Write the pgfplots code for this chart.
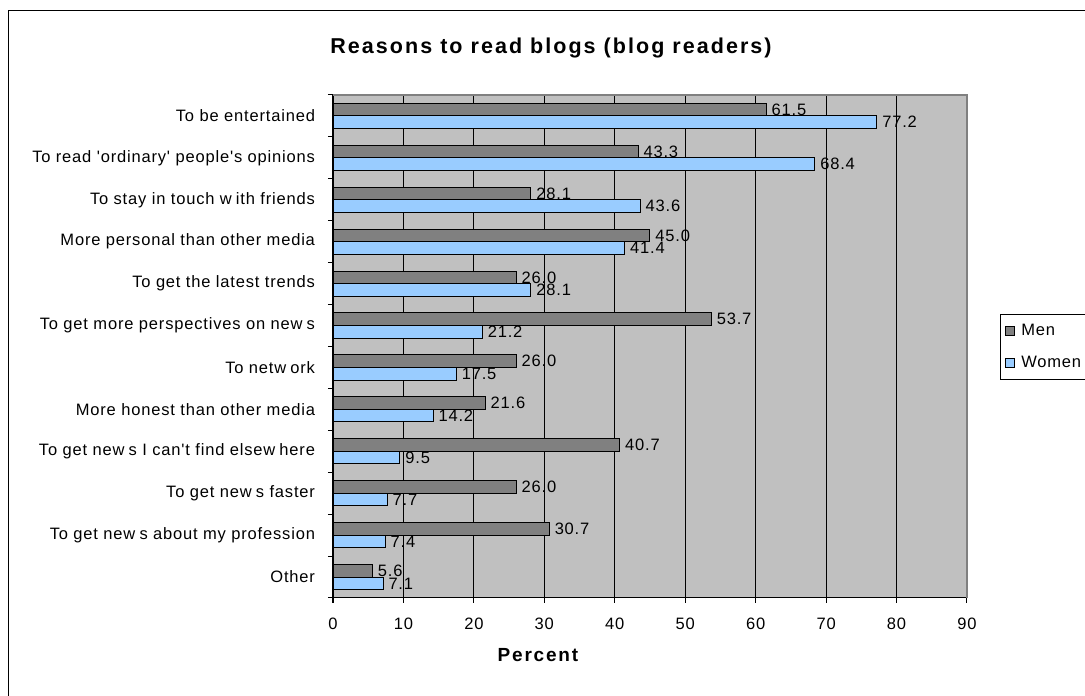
\documentclass[border=0pt]{standalone}
\usepackage{fontspec}
\setmainfont{Liberation Sans}
\newfontfamily\labelfont[LetterSpace=5]{Liberation Sans}
\newfontfamily\headfont[LetterSpace=9.5]{Liberation Sans}
\usepackage{pgfplots}
\usepackage{pgfplotstable}
\pgfplotsset{compat=1.18}

\definecolor{menfill}{HTML}{808080}
\definecolor{womenfill}{HTML}{99CCFF}
\definecolor{plotbg}{HTML}{C0C0C0}
\definecolor{plotedge}{HTML}{808080}

\newcommand{\lblfont}{\labelfont\fontsize{16.5}{19}\selectfont}
\newcommand{\wg}{\hspace{0.25em}}

% reason index (11 = top row), share of men, share of women (percent)
\pgfplotstableread{
idx men women
11 61.5 77.2
10 43.3 68.4
9  28.1 43.6
8  45.0 41.4
7  26.0 28.1
6  53.7 21.2
5  26.0 17.5
4  21.6 14.2
3  40.7 9.5
2  26.0 7.7
1  30.7 7.4
0  5.6  7.1
}\blogdata

\begin{document}
\begin{tikzpicture}
\useasboundingbox (0pt,0pt) rectangle (1085pt,696pt);
\fill[white] (0pt,0pt) rectangle (1085pt,696pt);
% chart frame
\draw[line width=1.2pt] (8.5pt,-20pt) -- (8.5pt,685.5pt) -- (1100pt,685.5pt);
% title
\node[anchor=base] at (551pt,642pt) {\fontsize{21.5}{24}\headfont\bfseries Reasons to read blogs (blog readers)};
\begin{axis}[
  at={(333pt,98pt)}, anchor=south west,
  scale only axis, width=634pt, height=503pt,
  xbar, bar width=0.3,
  clip=false,
  xmin=0, xmax=90, ymin=-0.5, ymax=11.5,
  axis lines*=left,
  axis line style={-, black, line width=1pt},
  axis background/.style={fill=plotbg},
  xtick={0,10,...,90},
  ytick={0,...,11},
  yticklabels={
    {Other},
    {To get new\wg s about my profession},
    {To get new\wg s faster},
    {To get new\wg s I can't find elsew\wg here},
    {More honest than other media},
    {To netw\wg ork},
    {To get more perspectives on new\wg s},
    {To get the latest trends},
    {More personal than other media},
    {To stay in touch w\wg ith friends},
    {To read 'ordinary' people's opinions},
    {To be entertained}},
  minor ytick={-0.5,0.5,...,11.5},
  tick align=outside,
  major tick length=5pt, minor tick length=5pt,
  major y tick style={draw=none},
  minor y tick style={black, line width=1pt},
  major x tick style={black, line width=1pt},
  xmajorgrids=true,
  major x grid style={black, line width=0.9pt},
  /pgf/number format/assume math mode=true,
  tick label style={font=\lblfont},
  yticklabel style={anchor=east, xshift=-9.5pt},
  xticklabel style={yshift=-11.5pt},
  xlabel={\fontsize{19}{22}\headfont\bfseries Percent},
  xlabel style={at={(axis description cs:0.3233,0)}, anchor=base, yshift=-64pt},
  nodes near coords={\pgfmathprintnumber[fixed,fixed zerofill,precision=1,assume math mode=true]{\pgfplotspointmeta}},
  nodes near coords style={font=\lblfont, anchor=west, inner sep=0pt, xshift=5pt, text=black},
  legend style={at={(1.052,0.5646)}, anchor=north west, draw=black, line width=0.8pt,
    font=\lblfont, row sep=15pt, inner xsep=5pt, inner ysep=8pt},
  legend cell align=left,
  legend image code/.code={\draw[#1, line width=0.9pt] (4pt,-4.5pt) rectangle (13pt,4.5pt); \path (17pt,0pt);},
]
\addplot[fill=menfill, draw=black, line width=1pt, bar shift=0.15] table[x=men, y=idx] {\blogdata};
\addplot[fill=womenfill, draw=black, line width=1pt, bar shift=-0.15] table[x=women, y=idx] {\blogdata};
\legend{Men, Women}
% lighter edge on the top and right of the plot area
\draw[plotedge, line width=1.2pt] (axis description cs:0,1) -- (axis description cs:1,1) -- (axis description cs:1,0);
\end{axis}
\end{tikzpicture}
\end{document}
